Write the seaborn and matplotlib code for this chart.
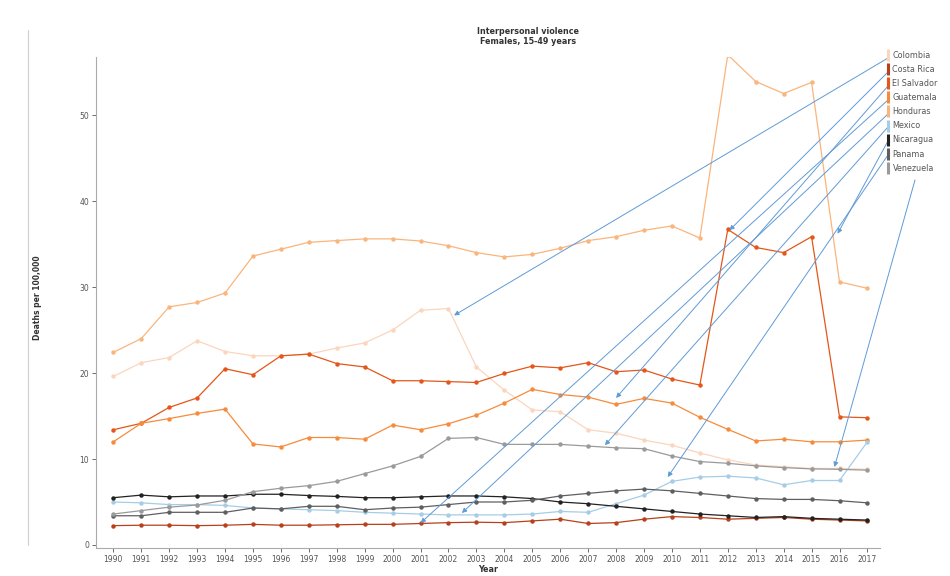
import numpy as np
import pandas as pd
import matplotlib
matplotlib.use('Agg')
import matplotlib.pyplot as plt
from matplotlib.lines import Line2D
import seaborn as sns

# Datos
years = list(range(1990, 2018))
countries = ['Colombia', 'Costa Rica', 'El Salvador', 'Guatemala', 'Honduras',
             'Mexico', 'Nicaragua', 'Panama', 'Venezuela']

colombia = [19.6, 21.2, 21.8, 23.75, 22.5, 22.0, 22.0, 22.2, 22.9, 23.5, 25.0, 27.3, 27.5, 20.7,
            18.0, 15.7, 15.5, 13.4, 13.0, 12.2, 11.6, 10.7, 9.9, 9.3, 9.1, 8.9, 8.9, 8.8]
costa_rica = [2.25, 2.3, 2.3, 2.25, 2.3, 2.4, 2.3, 2.3, 2.35, 2.4, 2.4, 2.5, 2.6, 2.65,
              2.6, 2.8, 3.0, 2.5, 2.6, 3.0, 3.3, 3.2, 3.0, 3.1, 3.2, 3.0, 2.9, 2.8]
el_salvador = [13.4, 14.15, 16.0, 17.1, 20.5, 19.8, 22.0, 22.2, 21.1, 20.7, 19.1, 19.1, 19.0, 18.9,
               19.95, 20.8, 20.6, 21.2, 20.15, 20.35, 19.3, 18.6, 36.7, 34.6, 34.0, 35.85, 14.9, 14.8]
guatemala = [12.0, 14.15, 14.7, 15.3, 15.8, 11.75, 11.4, 12.5, 12.5, 12.3, 13.95, 13.4, 14.1, 15.1,
             16.5, 18.1, 17.5, 17.2, 16.35, 17.05, 16.5, 14.85, 13.45, 12.1, 12.3, 12.0, 12.0, 12.2]
honduras = [22.4, 24.0, 27.7, 28.2, 29.3, 33.6, 34.4, 35.2, 35.4, 35.6, 35.6, 35.35, 34.8, 34.0,
            33.5, 33.8, 34.5, 35.4, 35.85, 36.6, 37.1, 35.7, 57.0, 53.9, 52.5, 53.8, 30.6, 29.85]
mexico = [5.0, 4.9, 4.7, 4.7, 4.6, 4.3, 4.2, 4.1, 4.0, 3.8, 3.7, 3.6, 3.5, 3.5,
          3.5, 3.6, 3.9, 3.8, 4.8, 5.8, 7.4, 7.9, 8.0, 7.8, 7.0, 7.5, 7.5, 12.0]
nicaragua = [5.5, 5.8, 5.6, 5.7, 5.7, 5.9, 5.9, 5.75, 5.65, 5.5, 5.5, 5.6, 5.7, 5.7,
             5.6, 5.4, 5.0, 4.8, 4.5, 4.2, 3.9, 3.6, 3.4, 3.2, 3.3, 3.1, 3.0, 2.9]
panama = [3.4, 3.4, 3.8, 3.8, 3.8, 4.3, 4.2, 4.5, 4.5, 4.1, 4.3, 4.4, 4.7, 5.0,
          5.0, 5.2, 5.7, 6.0, 6.3, 6.5, 6.3, 6.0, 5.7, 5.4, 5.3, 5.3, 5.15, 4.9]
venezuela = [3.6, 4.0, 4.4, 4.65, 5.2, 6.2, 6.6, 6.9, 7.4, 8.3, 9.2, 10.3, 12.4, 12.5,
             11.7, 11.7, 11.7, 11.5, 11.3, 11.2, 10.35, 9.7, 9.5, 9.2, 9.0, 8.85, 8.8, 8.7]

series = [colombia, costa_rica, el_salvador, guatemala, honduras,
          mexico, nicaragua, panama, venezuela]

# Puntas de las flechas (anotaciones), en coordenadas de datos
arrow_tips = [(2002.2, 26.7), (2012.06, 36.6), (2008.0, 17.1), (2001.0, 2.56), (2002.48, 3.72),
              (2007.6, 11.6), (2015.93, 36.2), (2009.85, 7.9), (2015.82, 9.07)]

colores = {
    'Colombia': '#fcd5bd',
    'Costa Rica': '#b8401a',
    'El Salvador': '#e4561a',
    'Guatemala': '#f68b3c',
    'Honduras': '#f9b57c',
    'Mexico': '#a6cde6',
    'Nicaragua': '#222222',
    'Panama': '#5f5f5f',
    'Venezuela': '#9a9a9a',
}

df = pd.DataFrame({
    'Year': np.tile(years, len(countries)),
    'Deaths': np.concatenate(series),
    'Country': np.repeat(countries, len(years)),
})

sns.set_style('white')
plt.rcParams['font.family'] = ['DejaVu Sans']

fig = plt.figure(figsize=(9.5, 5.76), dpi=100)
ax = fig.add_axes([96 / 950, 28 / 576, (880 - 96) / 950, (548 - 57) / 576])

sns.lineplot(data=df, x='Year', y='Deaths', hue='Country', hue_order=countries,
             palette=colores, marker='o', markersize=3.2, markeredgewidth=0,
             linewidth=0.9, legend=False, ax=ax)

ax.set_xlim(1989.38, 2017.45)
ax.set_ylim(-0.35, 56.75)
ax.set_xticks(years)
ax.set_xticklabels([str(y) for y in years])
ax.set_yticks([0, 10, 20, 30, 40, 50])
ax.tick_params(axis='both', labelsize=5.5, colors='#555555', length=3, width=0.6,
               direction='out', pad=2)
ax.tick_params(axis='both', which='both', bottom=True, left=True)
for s in ['top', 'right']:
    ax.spines[s].set_visible(False)
for s in ['left', 'bottom']:
    ax.spines[s].set_color('#aaaaaa')
    ax.spines[s].set_linewidth(0.8)
ax.set_xlabel('')
ax.set_ylabel('')

# Títulos y etiquetas
fig.text(528 / 950, 1 - 31 / 576, 'Interpersonal violence', ha='center', va='center',
         fontsize=5.8, fontweight='bold', color='#333333')
fig.text(528 / 950, 1 - 42 / 576, 'Females, 15-49 years', ha='center', va='center',
         fontsize=5.8, fontweight='bold', color='#333333')
fig.text(37 / 950, 1 - 298 / 576, 'Deaths per 100,000', rotation=90, ha='center', va='center',
         fontsize=5.5, fontweight='bold', color='#333333')
fig.text(488 / 950, 1 - 569 / 576, 'Year', ha='center', va='center',
         fontsize=5.8, fontweight='bold', color='#333333')

# Borde de la captura a la izquierda
fig.add_artist(Line2D([28 / 950, 28 / 950], [1 - 30 / 576, 1 - 545 / 576],
                      transform=fig.transFigure, color='#cfcfcf', lw=0.8))

# Leyenda con barras verticales
handles = [Line2D([0], [0], color=colores[c], marker='|', linestyle='none',
                  markersize=9, markeredgewidth=2.2) for c in countries]
leg = fig.legend(handles, countries, loc='upper left',
                 bbox_to_anchor=(886 / 950, 1 - 51 / 576), frameon=False,
                 fontsize=5.8, handlelength=0.6, handletextpad=0.2,
                 labelspacing=0.63, borderaxespad=0, borderpad=0)
for t in leg.get_texts():
    t.set_color('#555555')

# Flechas desde la leyenda hasta las líneas
starts = [(888, 58), (888, 72), (888, 86), (888, 100), (888, 114),
          (888, 127), (888, 141), (888, 155), (915, 180)]
for (sx, sy), tip in zip(starts, arrow_tips):
    ax.annotate('', xy=tip, xycoords='data',
                xytext=(sx, 576 - sy), textcoords='figure pixels',
                arrowprops=dict(arrowstyle='-|>', color='#5f9bd6', lw=0.7,
                                mutation_scale=7, shrinkA=0, shrinkB=0),
                annotation_clip=False)

fig.savefig('out.png', dpi=100, facecolor='white')
